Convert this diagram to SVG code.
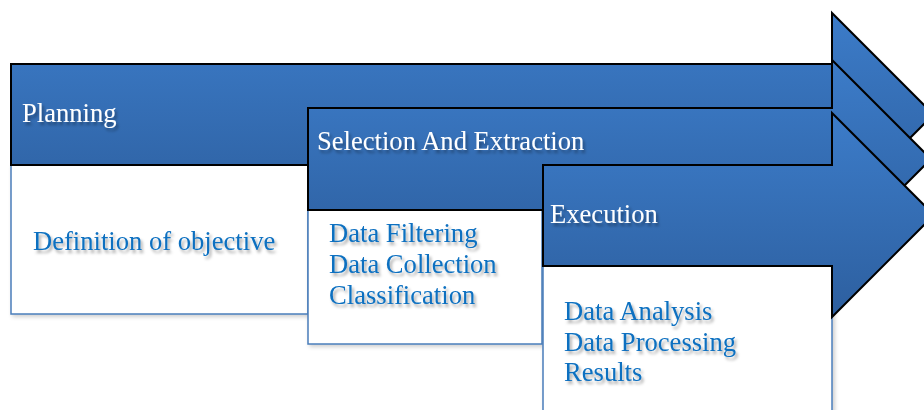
<svg xmlns="http://www.w3.org/2000/svg" width="924" height="410" viewBox="0 0 924 410">
<defs>
<linearGradient id="g" x1="0" y1="0" x2="0" y2="1">
<stop offset="0" stop-color="#3c7cc9"/>
<stop offset="1" stop-color="#2d5f9f"/>
</linearGradient>
<filter id="ts" x="-10%" y="-30%" width="130%" height="180%">
<feDropShadow dx="2" dy="3" stdDeviation="1.6" flood-color="#000" flood-opacity="0.35"/>
</filter>
<filter id="bs" x="-5%" y="-5%" width="115%" height="115%">
<feDropShadow dx="2" dy="2" stdDeviation="2" flood-color="#000" flood-opacity="0.2"/>
</filter>
</defs>
<style>
.arrow{fill:url(#g);stroke:#000;stroke-width:2;stroke-linejoin:miter}
.box{fill:#fff;stroke:#4a7ebb;stroke-width:1.5}
.hd{font-family:"Liberation Serif","Times New Roman",serif;font-size:26.6px;fill:#fff}
.tx{font-family:"Liberation Serif","Times New Roman",serif;font-size:26.6px;fill:#0a6fc0}
</style>
<rect width="924" height="410" fill="#fff"/>
<g id="planning">
<rect class="box" x="11" y="165" width="297" height="149" filter="url(#bs)"/>
<path class="arrow" d="M11,64 H832 V13 L933.5,114.5 L832,216 V165 H11 Z"/>
<text class="hd" x="22" y="122" filter="url(#ts)">Planning</text>
<text class="tx" x="33" y="250" filter="url(#ts)">Definition of objective</text>
</g>
<g id="selection">
<rect class="box" x="308" y="210" width="234" height="134" filter="url(#bs)"/>
<path class="arrow" d="M308,108 H832 V60 L931,159 L832,258 V210 H308 Z"/>
<text class="hd" x="317" y="150" filter="url(#ts)">Selection And Extraction</text>
<text class="tx" filter="url(#ts)"><tspan x="329" y="242">Data Filtering</tspan><tspan x="329" y="273">Data Collection</tspan><tspan x="329" y="304">Classification</tspan></text>
</g>
<g id="execution">
<rect class="box" x="543" y="266" width="289" height="160" filter="url(#bs)"/>
<path class="arrow" d="M543,165 H832 V113 L934,215 L832,317 V266 H543 Z"/>
<text class="hd" x="550" y="223" filter="url(#ts)">Execution</text>
<text class="tx" filter="url(#ts)"><tspan x="564" y="320">Data Analysis</tspan><tspan x="564" y="351">Data Processing</tspan><tspan x="564" y="381">Results</tspan></text>
</g>
<g id="connectors"></g>
</svg>
